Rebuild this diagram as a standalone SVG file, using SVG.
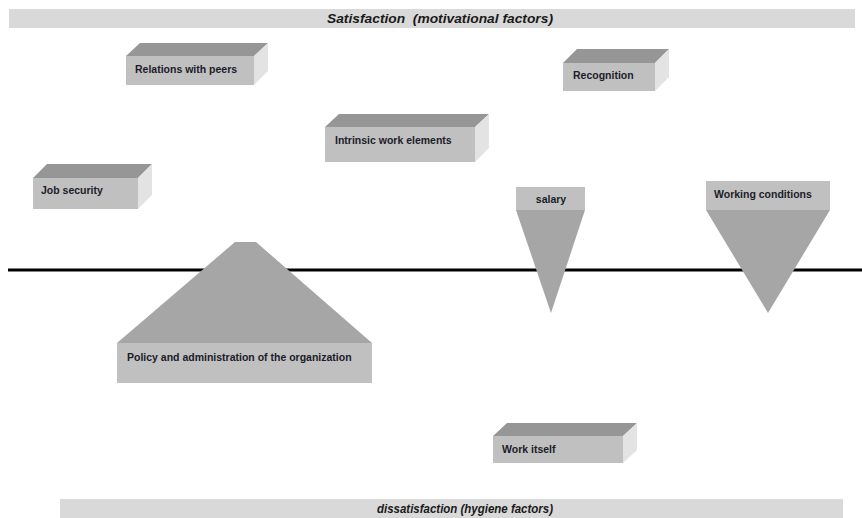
<svg xmlns="http://www.w3.org/2000/svg" width="862" height="518" viewBox="0 0 862 518">
<style>
.bar{fill:#d9d9d9}
.ttl{font-family:"Liberation Sans",Arial,sans-serif;font-style:italic;font-weight:bold;font-size:13px;fill:#1a1a1a;text-anchor:middle}
.front{fill:#c0c0c0}
.top{fill:#969696}
.side{fill:#e3e3e3}
.tri{fill:#a6a6a6}
.lbl{font-family:"Liberation Sans",Arial,sans-serif;font-weight:bold;font-size:10.5px;fill:#1c1c2a}
</style>
<rect width="862" height="518" fill="#ffffff"/>
<g id="title-top">
<rect class="bar" x="9" y="9" width="846" height="19"/>
<text class="ttl" x="440" y="23" textLength="226" lengthAdjust="spacingAndGlyphs">Satisfaction&#160; (motivational factors)</text>
</g>
<g id="title-bottom">
<rect class="bar" x="60" y="499" width="783" height="19"/>
<text class="ttl" x="465" y="513" textLength="176" lengthAdjust="spacingAndGlyphs">dissatisfaction (hygiene factors)</text>
</g>
<g id="connectors">
<line x1="8" y1="270" x2="862" y2="270" stroke="#000" stroke-width="3"/>
</g>
<g id="relations">
<polygon class="top" points="126,56 140,43 268,43 254,56"/>
<polygon class="side" points="254,56 268,43 268,71 254,85"/>
<rect class="front" x="126" y="56" width="128" height="29"/>
<text class="lbl" x="135" y="73">Relations with peers</text>
</g>
<g id="recognition">
<polygon class="top" points="563,63 577,49 669,49 655,63"/>
<polygon class="side" points="655,63 669,49 669,77 655,91"/>
<rect class="front" x="563" y="63" width="92" height="28"/>
<text class="lbl" x="573" y="79">Recognition</text>
</g>
<g id="intrinsic">
<polygon class="top" points="325,127 339,114 489,114 475,127"/>
<polygon class="side" points="475,127 489,114 489,148 475,162"/>
<rect class="front" x="325" y="127" width="150" height="35"/>
<text class="lbl" x="335" y="144">Intrinsic work elements</text>
</g>
<g id="job-security">
<polygon class="top" points="33,178 47,164 152,164 138,178"/>
<polygon class="side" points="138,178 152,164 152,195 138,209"/>
<rect class="front" x="33" y="178" width="105" height="31"/>
<text class="lbl" x="41" y="194">Job security</text>
</g>
<g id="salary">
<polygon class="tri" points="516,210 585,210 551,313"/>
<rect class="front" x="516" y="187" width="69" height="23"/>
<text class="lbl" x="551" y="203" text-anchor="middle">salary</text>
</g>
<g id="working-conditions">
<polygon class="tri" points="706,210 830,210 768,313"/>
<rect class="front" x="706" y="181" width="124" height="29"/>
<text class="lbl" x="714" y="198">Working conditions</text>
</g>
<g id="policy">
<polygon class="tri" points="117,343 235,242 256,242 372,343"/>
<rect class="front" x="117" y="343" width="255" height="40"/>
<text class="lbl" x="127" y="361">Policy and administration of the organization</text>
</g>
<g id="work-itself">
<polygon class="top" points="493,436 507,423 637,423 623,436"/>
<polygon class="side" points="623,436 637,423 637,450 623,463"/>
<rect class="front" x="493" y="436" width="130" height="27"/>
<text class="lbl" x="502" y="453">Work itself</text>
</g>
</svg>
